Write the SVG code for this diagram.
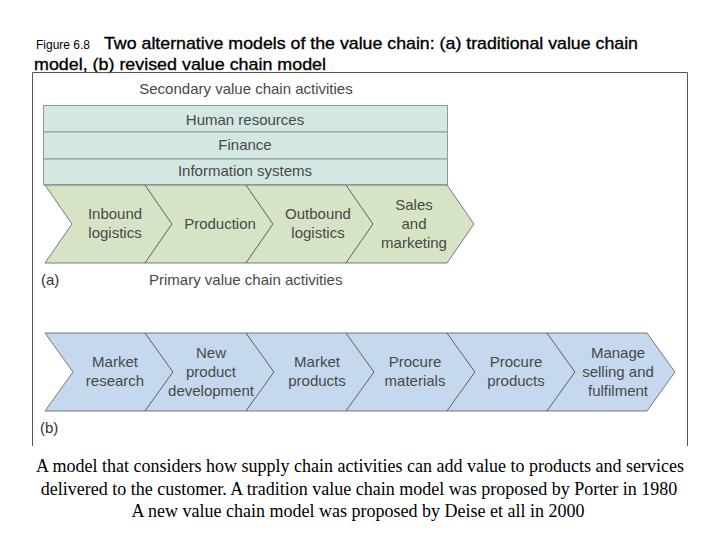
<svg xmlns="http://www.w3.org/2000/svg" width="720" height="540" viewBox="0 0 720 540">
<style>
.t{font-family:"Liberation Sans",Arial,sans-serif;fill:#484848;font-size:15px;text-anchor:middle}
.band{fill:#d3e7e3;stroke:#8c9c99;stroke-width:1}
.ga{fill:#d6e4c5;stroke:#5a5a5a;stroke-width:0.8}
.bb{fill:#c6d8ed;stroke:#5a5a5a;stroke-width:0.8}
.title{font-family:"Liberation Sans",Arial,sans-serif;fill:#000;font-size:17px;stroke:#000;stroke-width:0.35}
.foot{font-family:"Liberation Serif","Times New Roman",serif;fill:#000;font-size:18px;text-anchor:middle}
</style>
<rect width="720" height="540" fill="#fff"/>
<text x="36" y="49" style="font-family:'Liberation Sans',Arial,sans-serif;font-size:12px;fill:#000">Figure 6.8</text>
<text class="title" x="104" y="49" textLength="534" lengthAdjust="spacingAndGlyphs">Two alternative models of the value chain: (a) traditional value chain</text>
<text class="title" x="34" y="70" textLength="292" lengthAdjust="spacingAndGlyphs">model, (b) revised value chain model</text>
<path d="M32.5,446 V72.5 H687.5 V446" fill="none" stroke="#555" stroke-width="1"/>
<text class="t" x="246" y="94">Secondary value chain activities</text>
<g id="secondary">
<rect class="band" x="43.5" y="105.5" width="404" height="26.5"/>
<rect class="band" x="43.5" y="132" width="404" height="27"/>
<rect class="band" x="43.5" y="159" width="404" height="26"/>
<text class="t" x="245" y="125">Human resources</text>
<text class="t" x="245" y="150">Finance</text>
<text class="t" x="245" y="176">Information systems</text>
</g>
<g id="chain-a">
<g id="a1"><polygon class="ga" points="45,185 145,185 172,224 145,263 45,263 72,224"/><text class="t" x="115" y="219">Inbound</text><text class="t" x="115" y="238">logistics</text></g>
<g id="a2"><polygon class="ga" points="145,185 246,185 273,224 246,263 145,263 172,224"/><text class="t" x="220" y="229">Production</text></g>
<g id="a3"><polygon class="ga" points="246,185 346,185 373,224 346,263 246,263 273,224"/><text class="t" x="318" y="219">Outbound</text><text class="t" x="318" y="238">logistics</text></g>
<g id="a4"><polygon class="ga" points="346,185 447,185 474,224 447,263 346,263 373,224"/><text class="t" x="414" y="210">Sales</text><text class="t" x="414" y="229">and</text><text class="t" x="414" y="248">marketing</text></g>
</g>
<text class="t" x="41" y="285" style="text-anchor:start;fill:#333">(a)</text>
<text class="t" x="149" y="285" style="text-anchor:start">Primary value chain activities</text>
<g id="chain-b">
<g id="b1"><polygon class="bb" points="45,333 145,333 173,372 145,411 45,411 73,372"/><text class="t" x="115" y="367">Market</text><text class="t" x="115" y="386">research</text></g>
<g id="b2"><polygon class="bb" points="145,333 246,333 274,372 246,411 145,411 173,372"/><text class="t" x="211" y="358">New</text><text class="t" x="211" y="377">product</text><text class="t" x="211" y="396">development</text></g>
<g id="b3"><polygon class="bb" points="246,333 346,333 374,372 346,411 246,411 274,372"/><text class="t" x="317" y="367">Market</text><text class="t" x="317" y="386">products</text></g>
<g id="b4"><polygon class="bb" points="346,333 447,333 475,372 447,411 346,411 374,372"/><text class="t" x="415" y="367">Procure</text><text class="t" x="415" y="386">materials</text></g>
<g id="b5"><polygon class="bb" points="447,333 547,333 575,372 547,411 447,411 475,372"/><text class="t" x="516" y="367">Procure</text><text class="t" x="516" y="386">products</text></g>
<g id="b6"><polygon class="bb" points="547,333 647,333 675,372 647,411 547,411 575,372"/><text class="t" x="618" y="358">Manage</text><text class="t" x="618" y="377">selling and</text><text class="t" x="618" y="396">fulfilment</text></g>
</g>
<text class="t" x="40" y="433" style="text-anchor:start;fill:#333">(b)</text>
<text class="foot" x="360" y="472">A model that considers how supply chain activities can add value to products and services</text>
<text class="foot" x="359" y="495">delivered to the customer. A tradition value chain model was proposed by Porter in 1980</text>
<text class="foot" x="358" y="517">A new value chain model was proposed by Deise et all in 2000</text>
</svg>
